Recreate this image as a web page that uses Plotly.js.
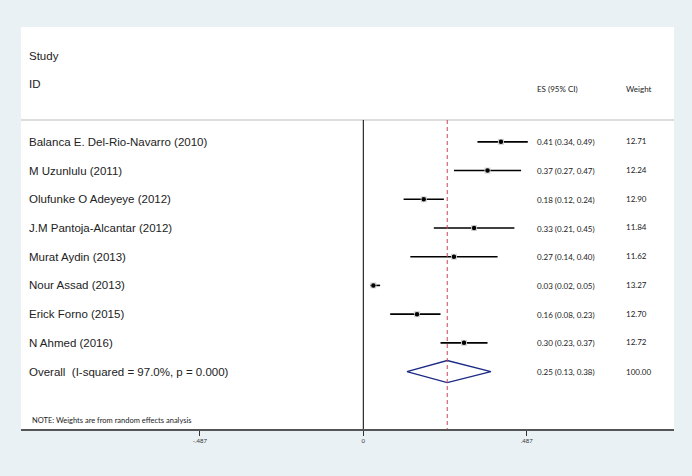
<!DOCTYPE html>
<html><head><meta charset="utf-8">
<script src="https://cdn.plot.ly/plotly-3.0.1.min.js"></script>
<style>html,body{margin:0;padding:0;background:#e9f1f4}#chart{width:692px;height:476px}</style>
</head><body><div id="chart"></div>
<script>
// ---- data ----
const studies = [
  "Balanca E. Del-Rio-Navarro (2010)",
  "M Uzunlulu (2011)",
  "Olufunke O Adeyeye (2012)",
  "J.M Pantoja-Alcantar (2012)",
  "Murat Aydin (2013)",
  "Nour Assad (2013)",
  "Erick Forno (2015)",
  "N Ahmed (2016)"
];
const es      = [0.41, 0.37, 0.18, 0.33, 0.27, 0.03, 0.16, 0.30];
const ciLow   = [0.34, 0.27, 0.12, 0.21, 0.14, 0.02, 0.08, 0.23];
const ciHigh  = [0.49, 0.47, 0.24, 0.45, 0.40, 0.05, 0.23, 0.37];
const weights = [12.71, 12.24, 12.90, 11.84, 11.62, 13.27, 12.70, 12.72];
const overallLabel = "Overall\u00a0 (I-squared = 97.0%, p = 0.000)";
const overallES = 0.25, overallLow = 0.13, overallHigh = 0.38, overallWeight = 100.00;
const tickVals = [-0.487, 0, 0.487];
const tickText = ["-.487", "0", ".487"];
const headerStudy = "Study", headerID = "ID", headerES = "ES (95% CI)", headerWeight = "Weight";
const noteText = "NOTE: Weights are from random effects analysis";

// ---- build ----
const rows = studies.map((_, i) => i);
const overallRow = studies.length;
const fmt = v => v.toFixed(2);

const ciTrace = {
  type: "scatter", mode: "markers", x: es, y: rows,
  marker: {symbol: "square", size: 6, color: "#d4d4d4"},
  error_x: {type: "data", symmetric: false,
    array: es.map((v, i) => ciHigh[i] - v),
    arrayminus: es.map((v, i) => v - ciLow[i]),
    color: "#000", thickness: 1.6, width: 0},
  hoverinfo: "skip", showlegend: false
};
const dotTrace = {
  type: "scatter", mode: "markers", x: es, y: rows,
  marker: {symbol: "circle", size: 4.5, color: "#000"},
  hoverinfo: "skip", showlegend: false
};
const dh = 0.385;
const diamond = {
  type: "scatter", mode: "lines",
  x: [overallLow, overallES, overallHigh, overallES, overallLow],
  y: [overallRow, overallRow - dh, overallRow, overallRow + dh, overallRow],
  line: {color: "#1b2a84", width: 1.4}, fill: "none",
  hoverinfo: "skip", showlegend: false
};

const labelFont = {family: "Liberation Sans, Arial, sans-serif", size: 11.5, color: "#222"};
const smallFont = {family: "Lato, sans-serif", size: 8, color: "#222"};
const ann = [];
const addText = (text, x, y, font) => ann.push({text, x, y, xref: "paper", yref: "y",
  xanchor: "left", yanchor: "middle", showarrow: false, font});
studies.forEach((s, i) => {
  addText(s, 0.0095, i, labelFont);
  addText(fmt(es[i]) + " (" + fmt(ciLow[i]) + ", " + fmt(ciHigh[i]) + ")", 0.7865, i + 0.02, smallFont);
  addText(fmt(weights[i]), 0.924, i - 0.02, smallFont);
});
addText(overallLabel, 0.0095, overallRow, labelFont);
addText(fmt(overallES) + " (" + fmt(overallLow) + ", " + fmt(overallHigh) + ")", 0.7865, overallRow + 0.02, smallFont);
addText(overallWeight.toFixed(2), 0.924, overallRow, smallFont);
addText(headerStudy, 0.0095, -3, labelFont);
addText(headerID, 0.0095, -2, labelFont);
addText(headerES, 0.7865, -1.84, smallFont);
addText(headerWeight, 0.924, -1.84, smallFont);
addText(noteText, 0.014, 9.69, {family: "Lato, sans-serif", size: 7.5, color: "#222"});

const sepY = -0.76;
const shapes = [
  {type: "line", xref: "paper", yref: "y", x0: 0, x1: 1, y0: sepY, y1: sepY, line: {color: "#d2d2d2", width: 1.5}},
  {type: "line", xref: "x", yref: "y", x0: 0, x1: 0, y0: sepY, y1: 10, line: {color: "#000", width: 1}},
  {type: "line", xref: "x", yref: "y", x0: overallES, x1: overallES, y0: sepY, y1: 10, line: {color: "#cc4455", width: 1, dash: "4px,3px"}}
];

const layout = {
  width: 692, height: 476,
  margin: {l: 21, r: 18, t: 27, b: 47},
  paper_bgcolor: "#e9f1f4", plot_bgcolor: "#ffffff",
  showlegend: false,
  xaxis: {range: [-1.0197, 0.9255], tickvals: tickVals, ticktext: tickText,
    showgrid: false, zeroline: false, showline: true, linecolor: "#555", linewidth: 1.5,
    ticks: "outside", ticklen: 5, tickcolor: "#333", tickwidth: 1,
    tickfont: {family: "Lato, sans-serif", size: 6, color: "#333"}, fixedrange: true},
  yaxis: {range: [10, -4], autorange: false, visible: false, showgrid: false, zeroline: false, fixedrange: true},
  annotations: ann, shapes: shapes
};
Plotly.newPlot("chart", [ciTrace, dotTrace, diamond], layout, {displayModeBar: false, staticPlot: true});
</script></body></html>
